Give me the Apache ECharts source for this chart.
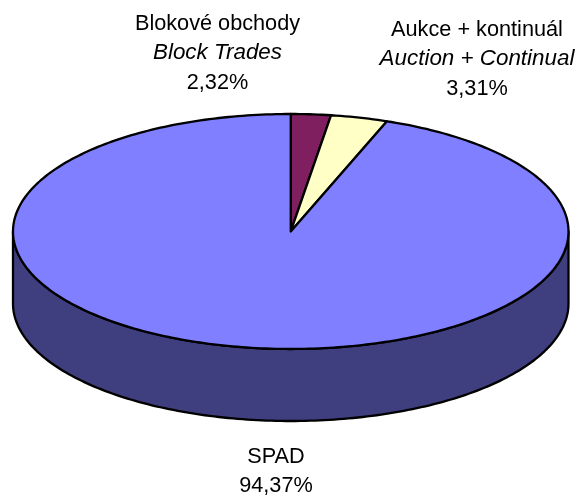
<!DOCTYPE html>
<html>
<head>
<meta charset="utf-8">
<style>
  html, body { margin: 0; padding: 0; background: #fff; }
  #chart { width: 575px; height: 496px; }
</style>
</head>
<body>
<div id="chart"></div>
<script src="https://cdn.jsdelivr.net/npm/echarts@6/dist/echarts.min.js"></script>
<script>
// data
const sliceNames = ["Blokové obchody", "Aukce + kontinuál", "SPAD"];
const sliceNamesEn = ["Block Trades", "Auction + Continual", ""];
const sliceValues = [2.32, 3.31, 94.37];
const topColors = ["#7f1f5f", "#ffffc6", "#7f7fff"];
const sideColors = ["#3f0f2f", "#7f7f63", "#3f3f7f"];
const labelCenters = [[217.5, 9], [477, 15], [276, 442]];

// height of the pie wall, in units of the ellipse's vertical radius
const depth = 0.613;

const chart = echarts.init(document.getElementById("chart"));

const fmt = v => v.toFixed(2).replace(".", ",") + "%";

// 0 = top of the ellipse, going clockwise
const point = (api, deg, yShift) => {
  const t = deg * Math.PI / 180;
  return api.coord([Math.sin(t), Math.cos(t) - (yShift || 0)]);
};

const arc = (api, from, to, yShift) => {
  const pts = [];
  const steps = Math.max(2, Math.ceil((to - from) / 1));
  for (let i = 0; i <= steps; i++) {
    pts.push(point(api, from + (to - from) * i / steps, yShift));
  }
  return pts;
};

const lineStyle = { stroke: "#000", lineWidth: 2.3, lineJoin: "round" };

const renderSlice = (params, api) => {
  const start = api.value(0);
  const end = api.value(1);
  const idx = params.dataIndex;
  const children = [];

  // only the front half of the wall is visible
  const sideFrom = Math.max(start, 90);
  const sideTo = Math.min(end, 270);
  if (sideFrom < sideTo) {
    const pts = arc(api, sideFrom, sideTo, 0).concat(arc(api, sideFrom, sideTo, depth).reverse());
    children.push({
      type: "polygon",
      shape: { points: pts },
      style: { fill: sideColors[idx], ...lineStyle }
    });
  }

  const topPts = [api.coord([0, 0])].concat(arc(api, start, end, 0));
  children.push({
    type: "polygon",
    shape: { points: topPts },
    style: { fill: topColors[idx], ...lineStyle }
  });
  return { type: "group", children };
};

let acc = 0;
const total = sliceValues.reduce((a, b) => a + b, 0);
const sliceData = sliceValues.map(v => {
  const from = acc / total * 360;
  acc += v;
  return [from, acc / total * 360];
});

const labels = sliceNames.map((name, i) => {
  const rows = ["{n|" + name + "}"];
  if (sliceNamesEn[i]) rows.push("{e|" + sliceNamesEn[i] + "}");
  rows.push("{n|" + fmt(sliceValues[i]) + "}");
  return {
    type: "text",
    x: labelCenters[i][0],
    y: labelCenters[i][1],
    style: {
      text: rows.join("\n"),
      align: "center",
      textAlign: "center",
      rich: {
        n: { fontFamily: "Liberation Sans", fontSize: 21.7, lineHeight: 29.5, fill: "#000" },
        e: { fontFamily: "Liberation Sans", fontSize: 22.4, lineHeight: 29.5, fontStyle: "italic", fill: "#000" }
      }
    }
  };
});

chart.setOption({
  animation: false,
  backgroundColor: "#fff",
  grid: { left: 13, width: 555.5, top: 114, height: 307 },
  xAxis: { type: "value", min: -1, max: 1, show: false },
  yAxis: { type: "value", min: -1 - depth, max: 1, show: false },
  graphic: labels,
  series: [{
    type: "custom",
    renderItem: renderSlice,
    data: sliceData,
    silent: true
  }]
});
</script>
</body>
</html>
